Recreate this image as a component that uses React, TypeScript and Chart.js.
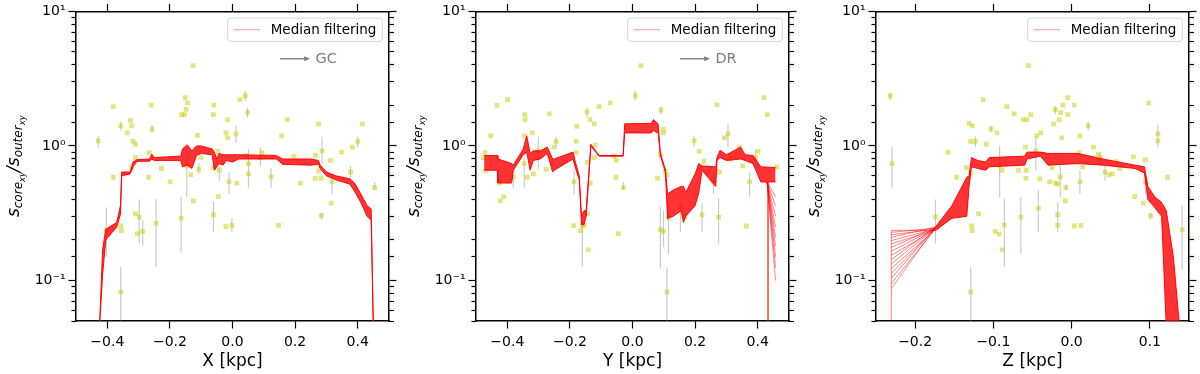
import React, { useEffect, useRef } from 'react';
import { Chart, registerables } from 'chart.js';
Chart.register(...registerables);

const FONT = "'DejaVu Sans', 'Liberation Sans', sans-serif";

// ---------- axis data ----------
const Y_MIN = 0.05;
const Y_MAX = 10;
const X12_RANGE = [-0.5, 0.5];
const X3_RANGE = [-0.25, 0.15];
const X12_TICKS = [-0.4, -0.2, 0.0, 0.2, 0.4];
const X3_TICKS = [-0.2, -0.1, 0.0, 0.1];
const X_LABELS = ['X [kpc]', 'Y [kpc]', 'Z [kpc]'];
const ARROW_LABELS = ['GC', 'DR', ''];
const LEGEND_LABEL = 'Median filtering';

// ---------- panel 1 (X) ----------
const P1_PT_X = [-0.429,-0.381,-0.357,-0.326,-0.322,-0.337,-0.318,-0.31,-0.31,-0.322,
  -0.381,-0.26,-0.257,-0.266,-0.268,-0.227,-0.199,-0.151,-0.144,-0.148,
  -0.163,-0.154,-0.126,-0.112,-0.133,-0.108,-0.101,-0.146,-0.125,-0.06,
  -0.061,-0.016,-0.021,-0.015,-0.047,-0.061,-0.042,-0.011,-0.045,-0.31,
  -0.298,-0.304,-0.287,-0.244,-0.164,-0.061,-0.021,-0.002,-0.403,-0.357,
  -0.355,-0.357,0.024,0.041,0.048,0.011,0.014,0.051,0.051,0.045,
  0.094,0.089,0.123,0.147,0.157,0.175,0.196,0.217,0.265,0.264,
  0.275,0.286,0.275,0.283,0.284,0.313,0.318,0.315,0.348,0.377,
  0.383,0.4,0.415,0.454];
const P1_PT_Y = [1.09,1.96,1.41,1.55,1.41,1.25,1.08,1.03,0.82,0.69,
  0.585,2.01,1.33,0.89,0.585,0.68,0.54,2.29,2.09,1.87,
  1.71,1.71,3.95,1.2,0.61,0.67,0.82,0.71,0.39,2.01,
  1.71,1.56,1.25,1.15,0.91,0.69,0.66,0.54,0.42,0.313,
  0.296,0.223,0.232,0.267,0.291,0.308,0.252,0.257,0.238,0.254,
  0.235,0.082,2.21,2.36,1.77,1.23,0.53,0.74,0.62,0.85,
  0.89,0.82,0.59,0.257,1.19,1.57,0.84,0.53,0.85,0.575,
  1.46,0.92,0.65,0.575,0.303,0.78,0.54,0.376,0.9,0.64,
  0.98,1.08,1.46,0.49];
const P1_ERR_X = [-0.429,-0.357,-0.257,-0.403,-0.357,-0.298,-0.287,-0.244,-0.164,-0.146,-0.108,-0.061,-0.042,-0.011,-0.002,0.041,0.048,0.011,0.051,0.089,0.123,0.286,0.284,0.318,0.377,0.4,0.454];
const P1_ERR_LO = [0.98,1.31,1.26,0.15,0.05,0.188,0.183,0.126,0.16,0.416,0.62,0.229,0.55,0.44,0.23,2.17,1.63,1.06,0.49,0.71,0.49,0.74,0.28,0.44,0.57,0.98,0.47];
const P1_ERR_HI = [1.19,1.52,1.44,0.35,0.126,0.4,0.28,0.405,0.42,0.98,0.74,0.387,0.71,0.64,0.29,2.57,1.93,1.41,0.95,0.98,0.69,1.17,0.32,0.62,0.71,1.17,0.54];
const P1_BAND_X = [-0.425,-0.415,-0.405,-0.37,-0.358,-0.354,-0.327,-0.322,-0.318,-0.31,-0.306,-0.265,-0.258,-0.25,-0.165,-0.16,-0.145,-0.13,-0.115,-0.1,-0.065,-0.058,-0.05,-0.043,-0.03,-0.02,0.0,0.02,0.14,0.16,0.25,0.275,0.28,0.3,0.33,0.375,0.39,0.41,0.43,0.443,0.45];
const P1_BAND_LO = [0.045,0.11,0.2,0.25,0.31,0.6,0.62,0.66,0.7,0.74,0.77,0.77,0.8,0.78,0.78,0.7,0.72,0.68,0.85,0.88,0.86,0.66,0.7,0.74,0.72,0.78,0.76,0.8,0.8,0.73,0.72,0.73,0.68,0.6,0.56,0.52,0.46,0.38,0.3,0.28,0.045];
const P1_BAND_HI = [0.045,0.17,0.24,0.27,0.36,0.64,0.64,0.7,0.76,0.78,0.79,0.8,0.87,0.82,0.84,0.95,1.02,0.92,1.0,1.0,0.95,0.9,0.8,0.88,0.86,0.86,0.86,0.86,0.85,0.8,0.8,0.78,0.72,0.64,0.6,0.57,0.53,0.44,0.36,0.34,0.045];

// ---------- panel 2 (Y) ----------
const P2_PT_X = [-0.433,-0.399,-0.453,-0.471,-0.477,-0.469,-0.426,-0.411,-0.422,-0.381,
  -0.344,-0.343,-0.346,-0.346,-0.336,-0.32,-0.317,-0.301,-0.276,-0.266,
  -0.251,-0.244,-0.18,-0.178,-0.18,-0.187,-0.188,-0.166,-0.16,-0.154,
  -0.141,-0.144,-0.145,-0.136,-0.122,-0.107,-0.071,-0.122,-0.119,-0.144,
  -0.135,-0.059,-0.052,-0.053,-0.029,-0.045,0.009,0.027,0.091,0.099,
  0.099,0.089,0.105,0.11,0.08,0.089,0.099,0.11,0.115,0.153,
  0.166,0.197,0.213,0.214,0.222,0.228,0.259,0.27,0.275,0.278,
  0.294,0.305,0.316,0.342,0.352,0.364,0.374,0.393,0.401,0.42,
  0.431,0.461];
const P2_PT_Y = [2.0,2.21,1.19,0.89,0.82,0.65,0.53,0.42,0.39,0.59,
  1.71,1.56,1.19,0.74,0.585,1.25,0.62,0.92,0.67,1.73,
  0.98,1.08,1.08,1.4,0.89,0.54,0.256,0.235,0.257,0.257,
  0.169,0.313,1.79,1.57,1.46,1.96,2.09,0.82,1.02,0.756,
  0.53,0.84,0.78,0.585,0.49,0.223,2.36,3.95,1.85,1.33,
  1.25,0.86,0.65,0.61,0.575,0.239,0.232,0.082,0.291,0.35,
  0.3,1.09,0.91,0.69,0.308,0.77,0.54,2.02,0.296,0.64,
  1.15,1.23,0.8,0.98,0.71,0.254,0.54,0.82,0.91,2.29,
  1.71,0.7];
const P2_ERR_X = [-0.381,-0.346,-0.301,-0.244,-0.187,-0.16,-0.145,-0.029,0.009,0.091,0.089,0.099,0.11,0.115,0.153,0.197,0.222,0.259,0.275,0.305,0.374,0.393];
const P2_ERR_LO = [0.49,0.49,0.67,0.98,0.44,0.127,1.63,0.47,2.17,1.73,0.123,0.177,0.05,0.158,0.229,0.98,0.229,0.44,0.188,0.98,0.416,0.71];
const P2_ERR_HI = [0.69,0.82,1.17,1.17,0.66,0.3,1.93,0.54,2.57,1.95,0.35,0.33,0.126,0.37,0.39,1.19,0.38,0.62,0.405,1.46,0.64,0.92];
const P2_BAND_X = [-0.474,-0.432,-0.43,-0.386,-0.381,-0.349,-0.338,-0.327,-0.317,-0.295,-0.272,-0.255,-0.25,-0.19,-0.182,-0.17,-0.163,-0.155,-0.148,-0.133,-0.107,-0.03,-0.025,0.06,0.067,0.082,0.089,0.105,0.112,0.13,0.155,0.163,0.17,0.2,0.212,0.222,0.266,0.27,0.28,0.3,0.345,0.36,0.385,0.41,0.457];
const P2_BAND_LO = [0.66,0.66,0.53,0.53,0.66,0.86,0.9,0.66,0.78,0.8,0.88,0.64,0.66,0.8,0.68,0.56,0.26,0.26,0.3,1.0,0.84,0.84,1.25,1.25,1.3,1.25,0.85,0.64,0.29,0.3,0.33,0.27,0.3,0.36,0.45,0.66,0.5,0.78,0.82,0.78,0.8,0.78,0.74,0.54,0.54];
const P2_BAND_HI = [0.85,0.85,0.8,0.74,0.72,0.95,1.19,0.88,0.92,0.92,0.98,0.8,0.8,0.9,0.75,0.6,0.3,0.33,0.33,1.03,0.85,0.85,1.46,1.47,1.57,1.45,0.88,0.67,0.44,0.47,0.5,0.5,0.45,0.62,0.74,0.71,0.7,0.82,0.93,0.86,0.98,0.86,0.85,0.7,0.69];
const P2_FAN_X = [0.43, 0.457];
const P2_FAN_START = 0.54;
const P2_FAN_END = [0.1, 0.125, 0.15, 0.18, 0.21, 0.25, 0.3, 0.36, 0.42];
const P2_DROP_X = 0.433;
const P2_DROP_Y = [0.54, 0.04];

// ---------- panel 3 (Z) ----------
const P3_PT_X = [-0.2317,-0.2296,-0.174,-0.158,-0.147,-0.1345,-0.131,-0.127,-0.129,-0.123,
  -0.129,-0.128,-0.127,-0.129,-0.119,-0.113,-0.109,-0.103,-0.0955,-0.092,
  -0.089,-0.0977,-0.0925,-0.0887,-0.086,-0.0828,-0.0734,-0.0616,-0.0573,-0.0522,
  -0.0552,-0.0649,-0.059,-0.058,-0.0585,-0.068,-0.0446,-0.0395,-0.0458,-0.0407,
  -0.0425,-0.028,-0.025,-0.023,-0.0209,-0.0158,-0.014,-0.011,-0.005,-0.005,
  0.0033,-0.0127,-0.0204,-0.0178,-0.0145,-0.0178,-0.0178,-0.0073,-0.0081,0.0033,
  0.0118,0.0106,0.0106,0.0097,0.014,0.0212,0.028,0.0339,0.0364,0.0428,
  0.0479,0.0517,0.0568,0.0615,0.079,0.0806,0.0942,0.0946,0.0916,0.101,
  0.0984,0.1102,0.1102,0.1226,0.1413];
const P3_PT_Y = [2.35,0.74,0.296,0.9,0.585,0.69,1.47,1.41,1.08,1.08,
  0.63,0.254,0.235,0.082,0.313,2.21,1.03,1.34,1.25,0.71,
  0.66,0.232,0.221,0.169,0.258,1.96,1.73,1.57,1.57,1.71,
  3.95,0.296,0.98,0.66,0.575,0.66,1.19,1.25,0.92,0.57,
  0.345,0.54,0.69,1.46,1.86,1.56,1.77,2.01,2.29,1.71,
  2.01,1.15,0.53,0.52,0.59,0.308,0.257,0.49,0.39,0.254,
  0.257,0.54,1.19,0.89,0.7,1.41,0.98,0.86,0.82,0.64,
  0.61,0.62,0.765,0.68,0.83,0.42,0.79,0.54,0.376,0.303,
  2.09,1.23,1.09,0.585,0.239];
const P3_ERR_X = [-0.2317,-0.2296,-0.174,-0.123,-0.129,-0.103,-0.092,-0.086,-0.0649,-0.0458,-0.0425,-0.0209,-0.0145,-0.0178,-0.0073,0.0106,0.0212,0.0364,0.0428,0.0946,0.101,0.1102,0.1413];
const P3_ERR_LO = [2.19,0.49,0.188,0.98,0.05,1.26,0.416,0.126,0.158,0.66,0.229,1.73,0.416,0.229,0.47,0.44,1.31,0.71,0.55,0.44,0.28,0.98,0.12];
const P3_ERR_HI = [2.49,0.98,0.4,1.17,0.126,1.41,1.0,0.405,0.42,1.17,0.47,1.99,0.71,0.38,0.52,0.66,1.52,0.9,0.71,0.6,0.32,1.44,0.36];
const P3_BAND_X = [-0.174,-0.153,-0.134,-0.131,-0.128,-0.12,-0.11,-0.105,-0.06,-0.057,-0.04,-0.03,0.008,0.04,0.081,0.093,0.0975,0.106,0.115,0.121,0.13,0.138];
const P3_BAND_LO = [0.235,0.29,0.3,0.5,0.7,0.68,0.66,0.7,0.72,0.8,0.84,0.72,0.74,0.72,0.68,0.63,0.4,0.35,0.3,0.045,0.04,0.04];
const P3_BAND_HI = [0.25,0.36,0.585,0.6,0.82,0.78,0.76,0.82,0.84,0.9,0.9,0.88,0.88,0.8,0.72,0.7,0.5,0.42,0.38,0.33,0.15,0.045];
const P3_FAN_X = [-0.2304, -0.174];
const P3_FAN_START = [0.236,0.228,0.219,0.209,0.198,0.187,0.176,0.165,0.154,0.143,0.133,0.123,0.113,0.104,0.095,0.087];
const P3_FAN_END = [0.236,0.245,0.24,0.25,0.242,0.238,0.248,0.244,0.24,0.25,0.246,0.24,0.244,0.248,0.242,0.25];
const P3_DROP_X = -0.2304;
const P3_DROP_Y = [0.04, 0.236];

// ---------- helpers ----------
type Pt = { x: number; y: number | null };
const zip = (xs: number[], ys: number[]): Pt[] => xs.map((x, i) => ({ x, y: ys[i] }));

const SUP: Record<string, string> = { '-1': '\u207B\u00B9', '0': '\u2070', '1': '\u00B9' };
function isMajorLog(v: number | undefined) {
  if (v === undefined || v === null) return true;
  const e = Math.log10(v);
  return Math.abs(e - Math.round(e)) < 1e-6;
}
function logLabel(v: number) {
  if (!isMajorLog(v)) return '';
  return '10' + (SUP[String(Math.round(Math.log10(v)))] ?? '');
}
function linLabel(v: number) {
  if (Math.abs(v) < 1e-9) return '0.0';
  return (v < 0 ? '\u2212' : '') + Math.abs(v).toFixed(1);
}

type PanelCfg = {
  xLabel: string; arrow: string; xRange: number[]; xTicks: number[];
  ptX: number[]; ptY: number[];
  errX: number[]; errLo: number[]; errHi: number[];
  bandX: number[]; bandLo: number[]; bandHi: number[];
  strands: Pt[][];
};

const PANELS: PanelCfg[] = [
  {
    xLabel: X_LABELS[0], arrow: ARROW_LABELS[0], xRange: X12_RANGE, xTicks: X12_TICKS,
    ptX: P1_PT_X, ptY: P1_PT_Y, errX: P1_ERR_X, errLo: P1_ERR_LO, errHi: P1_ERR_HI,
    bandX: P1_BAND_X, bandLo: P1_BAND_LO, bandHi: P1_BAND_HI, strands: [],
  },
  {
    xLabel: X_LABELS[1], arrow: ARROW_LABELS[1], xRange: X12_RANGE, xTicks: X12_TICKS,
    ptX: P2_PT_X, ptY: P2_PT_Y, errX: P2_ERR_X, errLo: P2_ERR_LO, errHi: P2_ERR_HI,
    bandX: P2_BAND_X, bandLo: P2_BAND_LO, bandHi: P2_BAND_HI,
    strands: [
      ...P2_FAN_END.map((e) => [{ x: P2_FAN_X[0], y: P2_FAN_START }, { x: P2_FAN_X[1], y: e }]),
      P2_DROP_Y.map((y) => ({ x: P2_DROP_X, y })),
    ],
  },
  {
    xLabel: X_LABELS[2], arrow: ARROW_LABELS[2], xRange: X3_RANGE, xTicks: X3_TICKS,
    ptX: P3_PT_X, ptY: P3_PT_Y, errX: P3_ERR_X, errLo: P3_ERR_LO, errHi: P3_ERR_HI,
    bandX: P3_BAND_X, bandLo: P3_BAND_LO, bandHi: P3_BAND_HI,
    strands: [
      ...P3_FAN_START.map((s, i) => [{ x: P3_FAN_X[0], y: s }, { x: P3_FAN_X[1], y: P3_FAN_END[i] }]),
      P3_DROP_Y.map((y) => ({ x: P3_DROP_X, y })),
    ],
  },
];

const TL = 7.5;
const MINOR_LEN = 4.5;

function makeDecor(arrowText: string) {
  return {
    id: 'decor',
    afterDraw(chart: any) {
      const ctx: CanvasRenderingContext2D = chart.ctx;
      const a = chart.chartArea;
      const W = a.right - a.left;
      const H = a.bottom - a.top;
      ctx.save();
      // legend box
      const bw = 154.6, bh = 23.3;
      const bx = a.right - 6.7 - bw, by = a.top + 6.7;
      const r = 3;
      ctx.beginPath();
      ctx.moveTo(bx + r, by);
      ctx.arcTo(bx + bw, by, bx + bw, by + bh, r);
      ctx.arcTo(bx + bw, by + bh, bx, by + bh, r);
      ctx.arcTo(bx, by + bh, bx, by, r);
      ctx.arcTo(bx, by, bx + bw, by, r);
      ctx.closePath();
      ctx.fillStyle = 'rgba(255,255,255,0.8)';
      ctx.fill();
      ctx.strokeStyle = '#d6d6d6';
      ctx.lineWidth = 1;
      ctx.stroke();
      const ly = by + bh / 2;
      ctx.beginPath();
      ctx.moveTo(bx + 5.6, ly);
      ctx.lineTo(bx + 32.3, ly);
      ctx.strokeStyle = 'rgba(255,0,0,0.4)';
      ctx.lineWidth = 1;
      ctx.stroke();
      ctx.fillStyle = '#000';
      ctx.font = `13.5px ${FONT}`;
      ctx.textBaseline = 'middle';
      ctx.textAlign = 'left';
      ctx.fillText(LEGEND_LABEL, bx + 43, ly + 0.5);

      // direction arrow
      if (arrowText) {
        const ay = a.top + 0.153 * H;
        const ax0 = a.left + 0.652 * W;
        const ax1 = a.left + 0.748 * W;
        ctx.strokeStyle = '#808080';
        ctx.fillStyle = '#808080';
        ctx.lineWidth = 1.4;
        ctx.beginPath();
        ctx.moveTo(ax0, ay);
        ctx.lineTo(ax1 - 4, ay);
        ctx.stroke();
        ctx.beginPath();
        ctx.moveTo(ax1, ay);
        ctx.lineTo(ax1 - 6, ay - 2.6);
        ctx.lineTo(ax1 - 6, ay + 2.6);
        ctx.closePath();
        ctx.fill();
        ctx.font = `14.5px ${FONT}`;
        ctx.textBaseline = 'middle';
        ctx.fillText(arrowText, a.left + 0.765 * W, ay + 0.5);
      }

      // y-axis title with sub-scripts
      const segs: [string, number, number][] = [
        ['s', 17, 0], ['core', 12, 3.4], ['xy', 8.5, 6.2], ['/', 17, 0],
        ['s', 17, 0], ['outer', 12, 3.4], ['xy', 8.5, 6.2],
      ];
      ctx.translate(19, (a.top + a.bottom) / 2);
      ctx.rotate(-Math.PI / 2);
      ctx.fillStyle = '#000';
      ctx.textBaseline = 'alphabetic';
      let total = 0;
      const widths = segs.map(([t, s]) => {
        ctx.font = `italic ${s}px ${FONT}`;
        const w = ctx.measureText(t).width;
        total += w;
        return w;
      });
      let x = -total / 2;
      segs.forEach(([t, s, dy], i) => {
        ctx.font = `italic ${s}px ${FONT}`;
        ctx.fillText(t, x, dy);
        x += widths[i];
      });
      ctx.restore();
    },
  };
}

function xAxis(cfg: PanelCfg, top: boolean) {
  return {
    type: 'linear', axis: 'x', position: top ? 'top' : 'bottom',
    min: cfg.xRange[0], max: cfg.xRange[1],
    afterBuildTicks: (ax: any) => { ax.ticks = cfg.xTicks.map((v) => ({ value: v })); },
    afterFit: (s: any) => { s.height = top ? 10 : 53; },
    ticks: {
      display: !top, autoSkip: false, maxRotation: 0, color: '#000', padding: 5,
      font: { family: FONT, size: 14 },
      callback: (v: any) => linLabel(Number(v)),
    },
    grid: { drawOnChartArea: false, drawTicks: true, tickLength: TL, tickWidth: 1.2, tickColor: '#000' },
    border: { display: true, color: '#000', width: 1.5 },
    title: top ? { display: false } : {
      display: true, text: cfg.xLabel, color: '#000',
      font: { family: FONT, size: 17 }, padding: { top: 0, bottom: 2 },
    },
  };
}

function yAxis(right: boolean) {
  return {
    type: 'logarithmic', axis: 'y', position: right ? 'right' : 'left',
    min: Y_MIN, max: Y_MAX,
    afterFit: (s: any) => { s.width = right ? 11 : 76; },
    ticks: {
      display: !right, autoSkip: false, color: '#000', padding: 3,
      font: { family: FONT, size: 14 },
      callback: (v: any) => logLabel(Number(v)),
    },
    grid: {
      drawOnChartArea: false, drawTicks: true, tickLength: TL, tickWidth: 1.2, tickColor: '#000',
      tickBorderDash: (c: any) => (isMajorLog(c.tick?.value) ? [] : [MINOR_LEN, 100]),
      tickBorderDashOffset: (c: any) =>
        isMajorLog(c.tick?.value) ? 0 : right ? 0 : MINOR_LEN + 100 - (TL - MINOR_LEN),
    },
    border: { display: true, color: '#000', width: 1.5 },
    title: { display: false },
  };
}

function buildDatasets(cfg: PanelCfg) {
  const errData: Pt[] = [];
  cfg.errX.forEach((x, i) => {
    errData.push({ x, y: cfg.errLo[i] }, { x, y: cfg.errHi[i] }, { x, y: null });
  });
  const sets: any[] = [
    {
      label: 'band-lo', data: zip(cfg.bandX, cfg.bandLo), borderColor: 'rgba(255,0,0,0.95)',
      borderWidth: 1, pointRadius: 0, fill: false, tension: 0,
    },
    {
      label: 'band-hi', data: zip(cfg.bandX, cfg.bandHi), borderColor: 'rgba(255,0,0,0.95)',
      borderWidth: 1, pointRadius: 0, fill: '-1', backgroundColor: 'rgba(255,0,0,0.8)', tension: 0,
    },
  ];
  cfg.strands.forEach((s, i) => {
    sets.push({
      label: 'strand' + i, data: s, borderColor: 'rgba(255,0,0,0.62)', borderWidth: 0.8,
      pointRadius: 0, fill: false, tension: 0,
    });
  });
  sets.push({
    label: 'points', data: zip(cfg.ptX, cfg.ptY), showLine: false,
    pointStyle: 'rect', pointRadius: 3.4, pointBorderWidth: 0,
    pointBackgroundColor: 'rgba(204,204,0,0.5)', pointBorderColor: 'rgba(0,0,0,0)',
  });
  sets.push({
    label: 'errors', data: errData, borderColor: 'rgba(140,140,140,0.45)', borderWidth: 1.2,
    pointRadius: 0, spanGaps: false, fill: false,
  });
  return sets;
}

function Panel({ cfg }: { cfg: PanelCfg }) {
  const ref = useRef<HTMLCanvasElement>(null);
  useEffect(() => {
    if (!ref.current) return;
    const chart = new Chart(ref.current, {
      type: 'line',
      data: { datasets: buildDatasets(cfg) },
      options: {
        responsive: false,
        animation: false,
        devicePixelRatio: 1,
        events: [],
        layout: { padding: 0 },
        plugins: { legend: { display: false }, tooltip: { enabled: false } },
        scales: {
          x: xAxis(cfg, false),
          x2: xAxis(cfg, true),
          y: yAxis(false),
          y2: yAxis(true),
        } as any,
      },
      plugins: [makeDecor(cfg.arrow)],
    } as any);
    return () => chart.destroy();
  }, [cfg]);
  return <canvas ref={ref} width={400} height={374} style={{ display: 'block', width: 400, height: 374 }} />;
}

export default function App() {
  useEffect(() => {
    document.body.style.margin = '0';
  }, []);
  return (
    <div style={{ display: 'flex', width: 1200, height: 374, background: '#fff' }}>
      <style>{'body{margin:0;background:#fff}'}</style>
      {PANELS.map((p, i) => (
        <Panel key={i} cfg={p} />
      ))}
    </div>
  );
}
